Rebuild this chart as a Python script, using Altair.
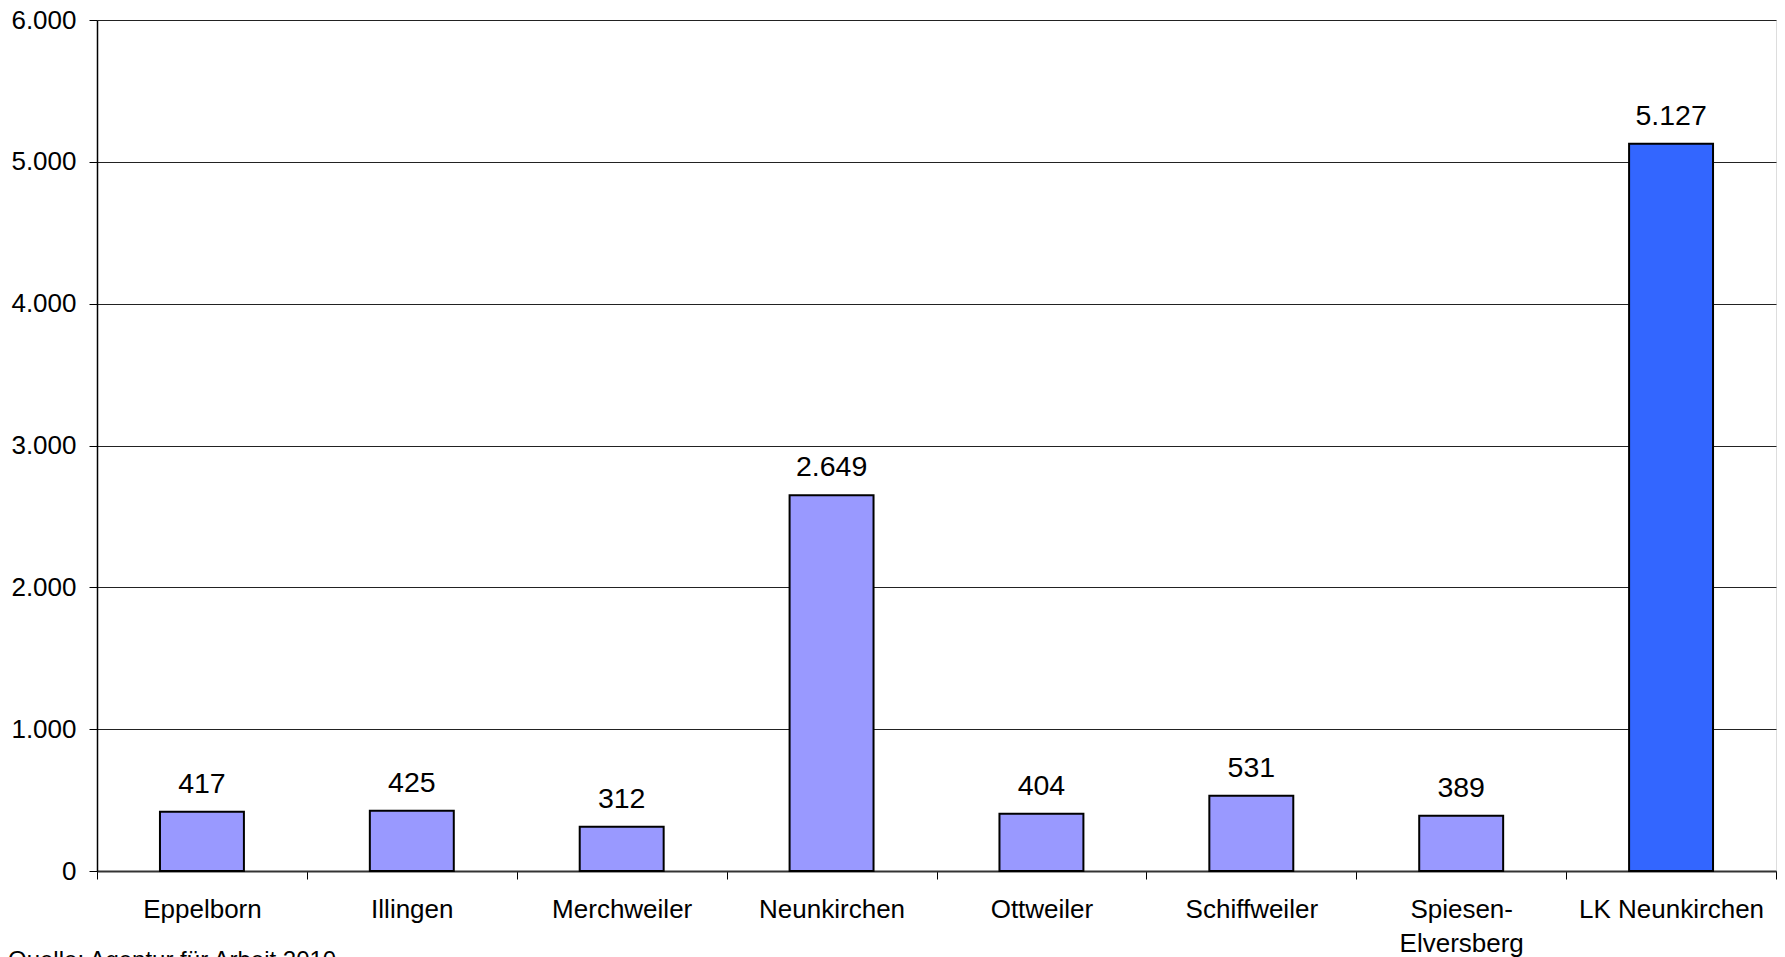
import altair as alt
import pandas as pd

categories = ["Eppelborn", "Illingen", "Merchweiler", "Neunkirchen", "Ottweiler",
              "Schiffweiler", "Spiesen-Elversberg", "LK Neunkirchen"]
values = [417, 425, 312, 2649, 404, 531, 389, 5127]
groups = ["Gemeinde"] * 7 + ["Landkreis"]
y_ticks = [0, 1000, 2000, 3000, 4000, 5000, 6000]
source_note = "Quelle: Agentur für Arbeit 2010"

df = pd.DataFrame({"ort": categories, "wert": values, "gruppe": groups})
note_df = pd.DataFrame({"t": [source_note]})

FONT = "Liberation Sans"

x_scale = alt.Scale(paddingInner=0, paddingOuter=0)

x_enc = alt.X(
    "ort:N", sort=categories, title=None, scale=x_scale,
    axis=alt.Axis(
        labelAngle=0, tickBand="extent", tickSize=8, tickColor="#000000",
        domainColor="#333333", domainWidth=2, labelFontSize=26,
        labelColor="#000000", labelPadding=17, labelLineHeight=34,
        labelFont=FONT, labelLimit=0,
        labelExpr="datum.label == 'Spiesen-Elversberg' ? ['Spiesen-', 'Elversberg'] : datum.label",
    ),
)
y_enc = alt.Y(
    "wert:Q", title=None,
    scale=alt.Scale(domain=[0, 6000], nice=False),
    axis=alt.Axis(
        values=y_ticks, tickSize=8, tickColor="#000000", domainColor="#000000",
        domainWidth=1.5, grid=True, gridColor="#222222", gridWidth=1,
        labelFontSize=26, labelColor="#000000", labelPadding=13, labelFont=FONT,
        labelExpr="replace(format(datum.value, ','), ',', '.')",
    ),
)

base = alt.Chart(df).transform_calculate(
    lbl="replace(format(datum.wert, ','), ',', '.')"
)

bars = base.mark_bar(stroke="#000000", strokeWidth=2,
                     width=alt.RelativeBandSize(0.4)).encode(
    x=x_enc, y=y_enc,
    color=alt.Color("gruppe:N", scale=alt.Scale(domain=["Gemeinde", "Landkreis"],
                                                range=["#9999FF", "#3366FF"]),
                    legend=None),
)

labels = base.mark_text(baseline="alphabetic", dy=-19, fontSize=28.5, font=FONT,
                        color="#000000").encode(
    x=alt.X("ort:N", sort=categories, scale=x_scale), y="wert:Q", text="lbl:N"
)

note = alt.Chart(note_df).mark_text(align="left", baseline="top", fontSize=24,
                                    font=FONT, color="#000000").encode(
    text="t:N", x=alt.value(-89), y=alt.value(929)
)

chart = alt.layer(bars, labels, note).properties(
    width=1679, height=851,
    autosize=alt.AutoSizeParams(type="none"),
    padding={"left": 89, "top": 12, "right": 1, "bottom": 110},
).configure_view(stroke="#808080", strokeWidth=1.5).configure(font=FONT)

chart.save("out.html", embed_options={"renderer": "svg", "actions": False})
